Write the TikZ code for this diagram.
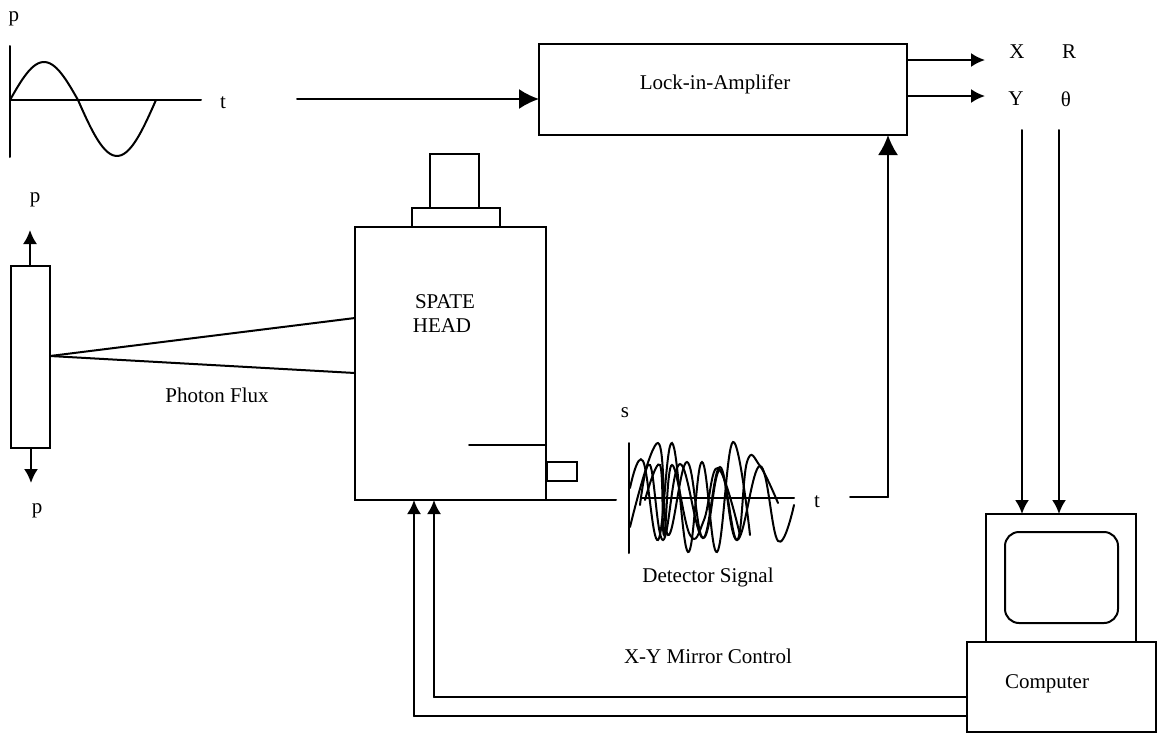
\documentclass[tikz,border=0pt]{standalone}
\usepackage{fontspec}
\setmainfont{Liberation Serif}
\usetikzlibrary{arrows.meta}
\tikzset{
	wire/.style={line width=2pt},
	arrowwire/.style={wire, -{Latex[length=14pt,width=14pt]}},
	bigarrowwire/.style={wire, -{Latex[length=20pt,width=20pt]}},
	boxpart/.style={draw, line width=2pt, anchor=north west, inner sep=0pt, outer sep=0pt},
	label/.style={inner sep=0pt, font=\fontsize{21}{23}\selectfont},
}
\begin{document}
\begin{tikzpicture}[x=1pt, y=-1pt, line cap=round]
				\useasboundingbox (0,0) rectangle (1160,734);
				%reference wave
				\node[label] (refp) at (14,19){p};
				\node[label] (reft) at (223,103){t};
				\draw[wire] (10,46) -- (10,157);
				\draw[wire] (10,100) -- (201,100);
				\draw[wire] plot[domain=0:180, samples=30, smooth] ({10+\x*68/180},{100-38*sin(\x)});
				\draw[wire] plot[domain=0:180, samples=30, smooth] ({78+\x*78/180},{100+56*sin(\x)});
				
				%amplifier
				\node[boxpart, minimum width=368pt, minimum height=91pt] (lockin) at (539,44){};
				\node[label] (lockintext) at (715,84){Lock-in-Amplifer};
				\coordinate (refout) at (297,99);
				\draw[bigarrowwire] (refout) -- (lockin.west|-refout);
				
				\node[label] (outx) at (1017,52){X};
				\node[label] (outr) at (1069,52){R};
				\node[label] (outy) at (1016,99){Y};
				\node[label] (outtheta) at (1066,99){θ};
				\coordinate (xtip) at (985,60);
				\coordinate (ytip) at (985,96);
				\draw[arrowwire] (lockin.east|-xtip) -- (xtip);
				\draw[arrowwire] (lockin.east|-ytip) -- (ytip);
				
				%sample bar
				\node[boxpart, minimum width=39pt, minimum height=182pt] (sample) at (11,266){};
				\node[label] (ptop) at (35,200){p};
				\node[label] (pbottom) at (37,511){p};
				\coordinate (ptip) at (30,230);
				\coordinate (qtip) at (31,483);
				\draw[arrowwire] (sample.north-|ptip) -- (ptip);
				\draw[arrowwire] (sample.south-|qtip) -- (qtip);
				
				%head
				\node[boxpart, minimum width=191pt, minimum height=273pt] (head) at (355,227){};
				\node[boxpart, minimum width=88pt, minimum height=19pt] (mount) at (412,208){};
				\node[boxpart, minimum width=49pt, minimum height=54pt] (lens) at (430,154){};
				\node[boxpart, minimum width=30pt, minimum height=19pt] (port) at (547,462){};
				\node[label] (headtexta) at (445,302){SPATE};
				\node[label] (headtextb) at (442,326){HEAD};
				\coordinate (inner) at (469,445);
				\draw[wire] (inner) -- (head.east|-inner);
				
				%photon flux
				\coordinate (focus) at (50,356);
				\coordinate (fluxa) at (355,318);
				\coordinate (fluxb) at (355,373);
				\draw[wire] (focus) -- (fluxa);
				\draw[wire] (focus) -- (fluxb);
				\node[label] (fluxtext) at (217,395){Photon Flux};
				
				%detector signal
				\node[label] (sigs) at (625,413){s};
				\node[label] (sigt) at (817,502){t};
				\node[label] (sigtext) at (708,577){Detector Signal};
				\coordinate (sigin) at (616,500);
				\coordinate (sigout) at (850,497);
				\coordinate (sigbend) at (888,497);
				\draw[wire] (head.south east) -- (sigin);
				\draw[wire] (629,443) -- (629,553);
				\draw[wire] (642,498) -- (794,498);
				\draw[wire] plot[smooth, tension=0.7] coordinates {(630,488) (643,461) (658,540) (672,443) (688,552) (702,462) (717,552) (733,442) (750,535)};
				\draw[wire] plot[smooth, tension=0.7] coordinates {(630,527) (658,443) (668,535) (687,462) (703,538) (720,467) (737,540) (760,466) (778,541) (794,505)};
				\draw[wire] plot[smooth, tension=0.7] coordinates {(640,505) (650,465) (663,540) (680,464) (703,538) (720,470) (737,540) (747,462) (760,466) (778,503)};
				\draw[wire] plot[smooth, tension=0.7] coordinates {(645,500) (660,465) (664,535) (672,465) (690,535) (704,520) (718,468) (740,535)};
				\draw[wire] (sigout) -- (sigbend);
				\draw[bigarrowwire] (sigbend) -- (sigbend|-lockin.south);
				
				%computer
				\node[boxpart, minimum width=150pt, minimum height=128pt] (monitor) at (986,514){};
				\node[boxpart, rounded corners=14pt, minimum width=113pt, minimum height=91pt] (screen) at (1005,532){};
				\node[boxpart, minimum width=189pt, minimum height=90pt] (computer) at (967,642){};
				\node[label] (computertext) at (1047,684){Computer};
				\node[label] (mirrortext) at (708,656){X-Y Mirror Control};
				\coordinate (inr) at (1022,130);
				\coordinate (intheta) at (1059,130);
				\draw[arrowwire] (inr) -- (inr|-monitor.north);
				\draw[arrowwire] (intheta) -- (intheta|-monitor.north);
				
				\coordinate (ctrla) at (967,697);
				\coordinate (ctrlb) at (967,716);
				\coordinate (benda) at (434,697);
				\coordinate (bendb) at (414,716);
				\draw[wire] (ctrla) -- (benda);
				\draw[wire] (ctrlb) -- (bendb);
				\draw[arrowwire] (benda) -- (benda|-head.south);
				\draw[arrowwire] (bendb) -- (bendb|-head.south);
			\end{tikzpicture}
\end{document}
